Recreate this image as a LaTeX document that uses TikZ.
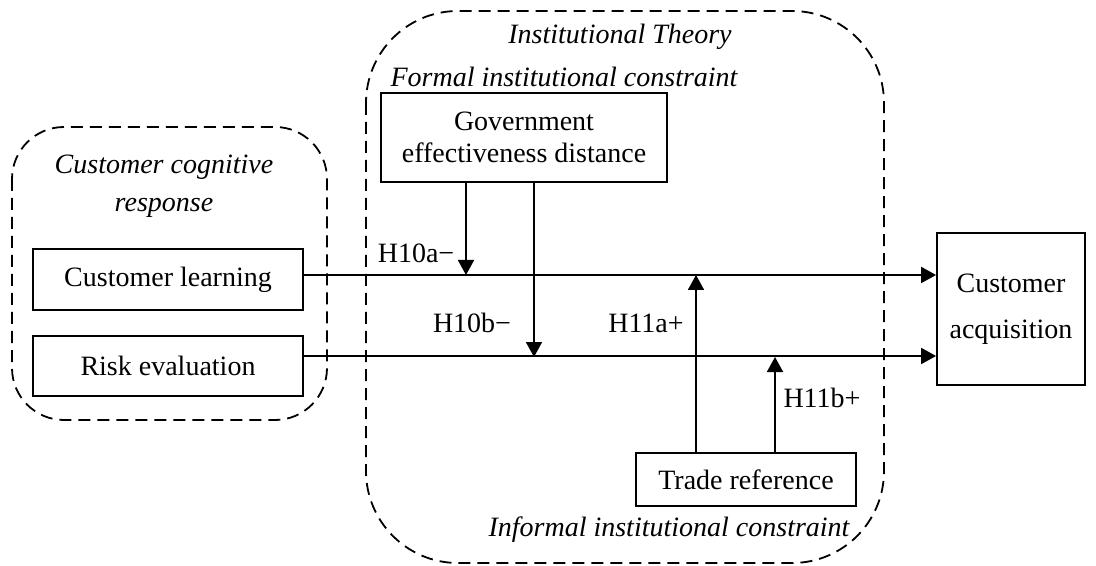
\documentclass[tikz,border=0pt]{standalone}
\usepackage{fontspec}
\setmainfont{Liberation Serif}
\usetikzlibrary{arrows.meta}
\newcommand\fsz{\fontsize{14}{16}\selectfont}
\begin{document}
\begin{tikzpicture}[x=0.5pt,y=-0.5pt,
  box/.style={draw, line width=0.9pt, inner sep=0pt, align=center, font=\fsz},
  dbox/.style={draw, line width=0.9pt, dash pattern=on 6pt off 3.5pt},
  lbl/.style={inner sep=0pt, font=\fsz},
  ilbl/.style={inner sep=0pt, align=center, font=\fsz\itshape},
  arr/.style={line width=0.9pt, -{Triangle[length=7.5pt,width=8pt]}},
  plain/.style={line width=0.9pt}
]
\useasboundingbox (0,0) rectangle (1096,566);

% dashed regions
\draw[dbox, rounded corners=26pt] (12,127) rectangle (327,420);
\draw[dbox, rounded corners=46pt] (366,11) rectangle (884,563);

% region titles
\node[ilbl, font=\fontsize{14}{19}\selectfont\itshape] (cog) at (164,186) {Customer cognitive\\response};
\node[ilbl] (inst) at (620,37) {Institutional Theory};
\node[ilbl] (formal) at (564,77) {Formal institutional constraint};
\node[ilbl] (informal) at (669,530) {Informal institutional constraint};

% boxes
\node[box, minimum width=135pt, minimum height=30.5pt] (cl) at (168,279.5) {Customer learning};
\node[box, minimum width=135pt, minimum height=30pt] (re) at (168,366) {Risk evaluation};
\node[box, minimum width=143pt, minimum height=44.5pt] (gov) at (524,137.5) {Government\\effectiveness distance};
\node[box, minimum width=110pt, minimum height=26.5pt] (tr) at (746,479.5) {Trade reference};
\node[box, minimum width=74pt, minimum height=76pt, font=\fontsize{14}{23}\selectfont] (ca) at (1011,309) {Customer\\acquisition};

% main paths
\draw[arr] ([yshift=2.25pt]cl.east) coordinate (l1) -- (l1 -| ca.west);
\draw[arr] ([yshift=5pt]re.east) coordinate (l2) -- (l2 -| ca.west);

% moderating arrows
\coordinate (h10a) at (466,275);
\coordinate (h10b) at (534,357);
\coordinate (h11a) at (696,275);
\coordinate (h11b) at (775,357);
\draw[arr] (gov.south -| h10a) -- (h10a);
\draw[arr] (gov.south -| h10b) -- (h10b);
\draw[arr] (tr.north -| h11a) -- (h11a);
\draw[arr] (tr.north -| h11b) -- (h11b);

% hypothesis labels
\node[lbl] (la) at (416,253) {H10a−};
\node[lbl] (lb) at (472,323) {H10b−};
\node[lbl] (lc) at (646,323) {H11a+};
\node[lbl] (ld) at (822,398) {H11b+};
\end{tikzpicture}
\end{document}
